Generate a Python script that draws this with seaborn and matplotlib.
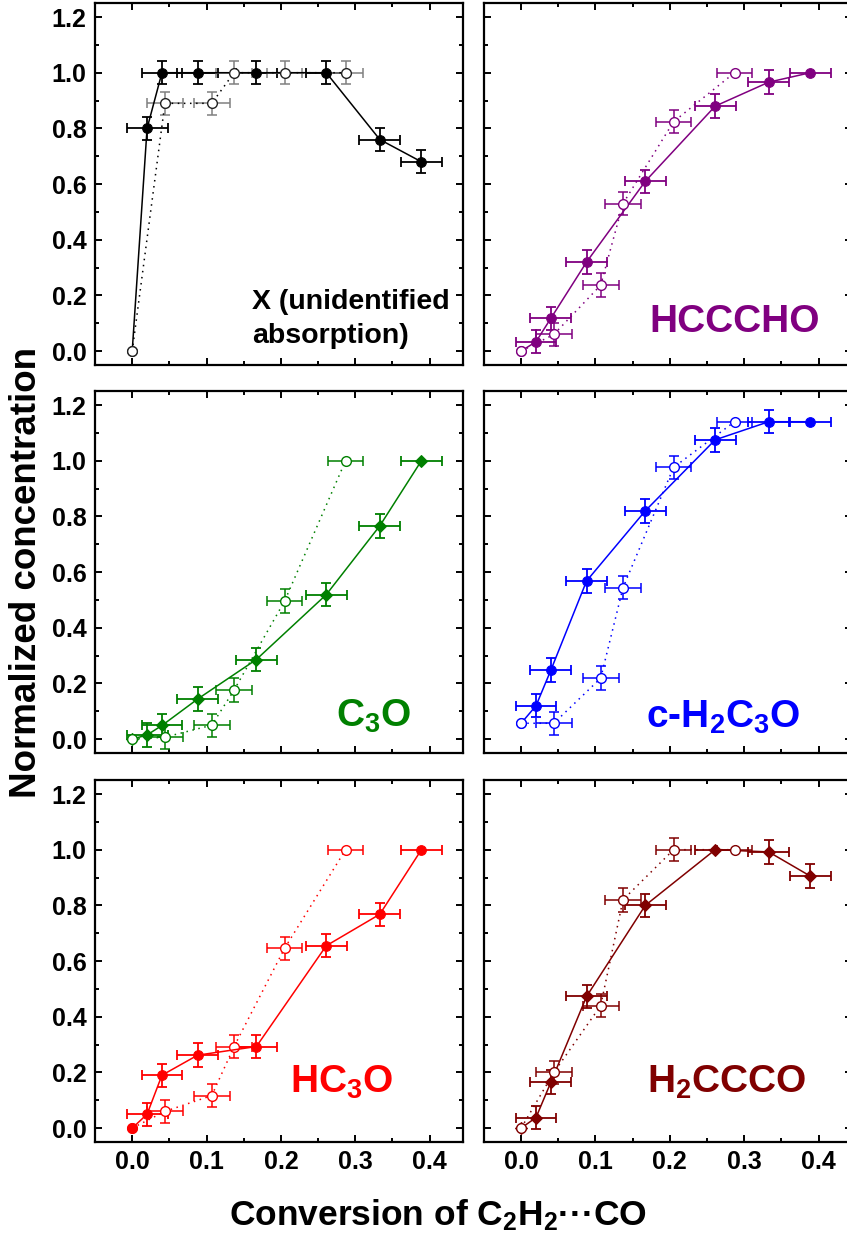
import matplotlib
matplotlib.use("Agg")
import matplotlib.pyplot as plt
from matplotlib.ticker import MultipleLocator, FormatStrFormatter
import numpy as np
import seaborn as sns

# conversion of C2H2...CO (shared x positions)
CONV_FILLED = [0.0, 0.020, 0.040, 0.088, 0.167, 0.261, 0.333, 0.389]
CONV_OPEN = [0.0, 0.044, 0.107, 0.137, 0.205, 0.287]

# normalized concentrations, filled and open series per species
X_FILLED = [0.0, 0.80, 1.0, 1.0, 1.0, 1.0, 0.76, 0.68]
X_OPEN = [0.0, 0.89, 0.89, 1.0, 1.0, 1.0]
HCCCHO_FILLED = [0.0, 0.034, 0.118, 0.32, 0.61, 0.88, 0.966, 1.0]
HCCCHO_OPEN = [0.0, 0.06, 0.237, 0.53, 0.824, 1.0]
C3O_FILLED = [0.0, 0.015, 0.049, 0.144, 0.286, 0.519, 0.766, 1.0]
C3O_OPEN = [0.0, 0.007, 0.05, 0.176, 0.496, 1.0]
CH2C3O_FILLED = [0.057, 0.12, 0.248, 0.568, 0.82, 1.075, 1.14, 1.14]
CH2C3O_OPEN = [0.057, 0.057, 0.219, 0.544, 0.976, 1.14]
HC3O_FILLED = [0.0, 0.05, 0.19, 0.262, 0.293, 0.655, 0.768, 1.0]
HC3O_OPEN = [0.0, 0.06, 0.117, 0.293, 0.646, 1.0]
H2CCCO_FILLED = [0.0, 0.038, 0.165, 0.473, 0.80, 1.0, 0.992, 0.905]
H2CCCO_OPEN = [0.0, 0.2, 0.44, 0.82, 1.0, 1.0]

# index of the normalization point (no y error bar), None = all have errors
REF_FILLED = [None, 7, 7, 7, 7, 5]
REF_OPEN = [None, 5, 5, 5, 5, 5]

XERR_FILLED = 0.0275
XERR_OPEN = 0.024
YERR = 0.042

SPECIES = ["X (unidentified\nabsorption)", "HCCCHO", r"$\mathbf{C_3O}$",
           r"$\mathbf{c\text{-}H_2C_3O}$", r"$\mathbf{HC_3O}$", r"$\mathbf{H_2CCCO}$"]
FILLED = [X_FILLED, HCCCHO_FILLED, C3O_FILLED, CH2C3O_FILLED, HC3O_FILLED, H2CCCO_FILLED]
OPEN = [X_OPEN, HCCCHO_OPEN, C3O_OPEN, CH2C3O_OPEN, HC3O_OPEN, H2CCCO_OPEN]
COLORS = ["black", "#800080", "#008000", "#0000FF", "#FF0000", "#800000"]
MARKERS = ["o", "o", "D", "o", "o", "D"]
OPEN_ON_TOP = [True, True, True, True, False, True]

sns.set_theme(style="ticks")
plt.rcParams["font.family"] = ["Liberation Sans", "DejaVu Sans"]
plt.rcParams["font.weight"] = "bold"
plt.rcParams["text.color"] = "black"
plt.rcParams["xtick.color"] = "black"
plt.rcParams["ytick.color"] = "black"
plt.rcParams["mathtext.fontset"] = "custom"
plt.rcParams["mathtext.rm"] = "Liberation Sans"
plt.rcParams["mathtext.bf"] = "Liberation Sans:bold"
plt.rcParams["mathtext.it"] = "Liberation Sans:italic"

fig = plt.figure(figsize=(8.47, 12.40), dpi=100)

col_x = [0.1122, 0.5714]
row_y = [0.7056, 0.3927, 0.079]
w, h = 0.4345, 0.2919

# label placement in axes coords: (x, y, ha, size)
LABEL_POS = [(0.426, 0.06, "left", 20.5), (0.913, 0.091, "right", 28),
             (0.859, 0.073, "right", 28), (0.859, 0.069, "right", 28),
             (0.81, 0.136, "right", 28), (0.875, 0.136, "right", 28)]


def yerrs(xs, ys, ref):
    e = []
    for i, (x, y) in enumerate(zip(xs, ys)):
        e.append(0.0 if (x == 0.0 or i == ref) else YERR)
    return e


for k in range(6):
    r, c = divmod(k, 2)
    ax = fig.add_axes([col_x[c], row_y[r], w, h])
    color = COLORS[k]
    open_err_color = "#808080" if k == 0 else color
    open_edge = "#222222" if k == 0 else color

    xf = np.array(CONV_FILLED)
    xo = np.array(CONV_OPEN)
    xerr_f = [0.0 if x == 0 else XERR_FILLED for x in xf]
    xerr_o = [0.0 if x == 0 else XERR_OPEN for x in xo]

    z_f, z_o = (3, 4) if OPEN_ON_TOP[k] else (4, 3)

    ax.errorbar(xf, FILLED[k], xerr=xerr_f, yerr=yerrs(xf, FILLED[k], REF_FILLED[k]),
                fmt="none", ecolor=color, elinewidth=1.3, capsize=3.5, capthick=1.3, zorder=2)
    ax.errorbar(xo, OPEN[k], xerr=xerr_o, yerr=yerrs(xo, OPEN[k], REF_OPEN[k]),
                fmt="none", ecolor=open_err_color, elinewidth=1.1, capsize=3.5, capthick=1.1, zorder=2)

    sns.lineplot(x=xf, y=FILLED[k], ax=ax, sort=False, estimator=None, color=color,
                 linewidth=1.1, marker=MARKERS[k], markersize=7 if MARKERS[k] == "o" else 6.5,
                 markerfacecolor=color, markeredgecolor=color, zorder=z_f)
    sns.lineplot(x=xo, y=OPEN[k], ax=ax, sort=False, estimator=None, color=color,
                 linewidth=1.1, linestyle=(0, (1, 3)), marker="o", markersize=7,
                 markerfacecolor="white", markeredgecolor=open_edge, markeredgewidth=1.0,
                 zorder=z_o)

    ax.set_xlim(-0.05, 0.445)
    ax.set_ylim(-0.05, 1.25)
    ax.xaxis.set_major_locator(MultipleLocator(0.1))
    ax.xaxis.set_minor_locator(MultipleLocator(0.05))
    ax.yaxis.set_major_locator(MultipleLocator(0.2))
    ax.yaxis.set_minor_locator(MultipleLocator(0.1))
    ax.xaxis.set_major_formatter(FormatStrFormatter("%.1f"))
    ax.yaxis.set_major_formatter(FormatStrFormatter("%.1f"))
    ax.tick_params(which="both", direction="in", top=True, right=True, width=1.4,
                   color="black", labelcolor="black", labelsize=18, pad=6)
    ax.tick_params(which="major", length=5)
    ax.tick_params(which="minor", length=3)
    ax.tick_params(labelleft=(c == 0), labelbottom=(r == 2))
    for lab in ax.get_xticklabels() + ax.get_yticklabels():
        lab.set_fontweight("bold")
    for sp in ax.spines.values():
        sp.set_linewidth(1.6)
        sp.set_color("black")
    ax.set_xlabel("")
    ax.set_ylabel("")
    ax.grid(False)

    lx, ly, ha, size = LABEL_POS[k]
    ax.text(lx, ly, SPECIES[k], transform=ax.transAxes, ha=ha, va="baseline",
            fontsize=size, fontweight="bold", color=color, linespacing=1.42)

fig.text(0.031, 0.538, "Normalized concentration", rotation=90, ha="center", va="center",
         fontsize=26.5, fontweight="bold")
fig.text(0.517, 0.012, r"Conversion of $\mathbf{C_2H_2}$" + "\u00b7\u00b7\u00b7CO",
         ha="center", va="baseline", fontsize=25.5, fontweight="bold")

fig.savefig("out.png", dpi=100)
